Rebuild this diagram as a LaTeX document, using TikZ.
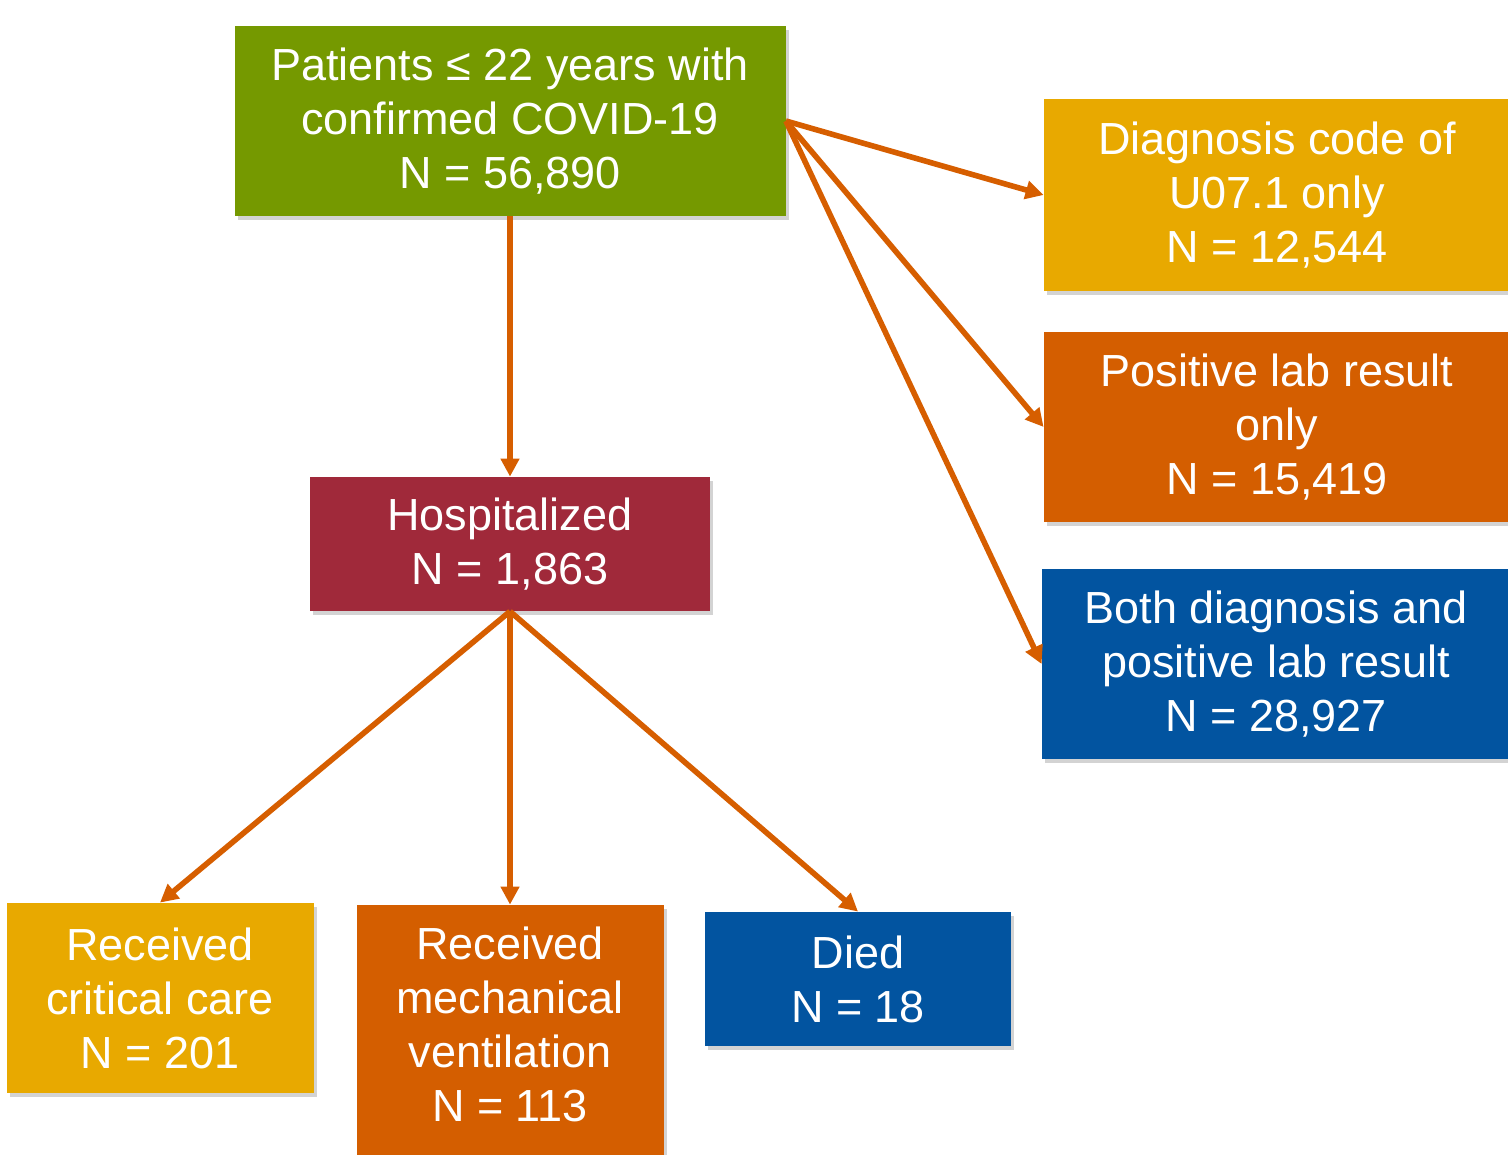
\documentclass[tikz,border=0pt]{standalone}
\usepackage{fontspec}
\setmainfont{Liberation Sans}
\usetikzlibrary{arrows.meta,shadows}
\definecolor{boxgreen}{RGB}{117,153,0}
\definecolor{boxgold}{RGB}{232,169,0}
\definecolor{boxorange}{RGB}{212,94,0}
\definecolor{boxred}{RGB}{160,41,58}
\definecolor{boxblue}{RGB}{2,84,160}
\definecolor{arrorange}{RGB}{214,94,0}

\begin{document}
\begin{tikzpicture}[x=0.5pt,y=-0.5pt,
  box/.style={fill=#1, text=white, align=center, inner sep=0pt,
    font=\fontsize{22.5}{27}\selectfont,
    drop shadow={shadow xshift=1.5pt, shadow yshift=-2pt, opacity=0.35}},
  boxtext/.style={text=white, align=center, inner sep=0pt, font=\fontsize{22.5}{27}\selectfont},
  arr/.style={draw=arrorange, line width=2.8pt, -{Triangle[length=9pt,width=9pt]}}]
  \useasboundingbox (0,0) rectangle (1508,1155);

  \node[box=boxgreen, minimum width=275.5pt, minimum height=95pt] (all) at (510,121) {Patients ≤ 22 years with\\confirmed COVID-19\\N = 56,890};
  \node[box=boxgold, minimum width=233pt, minimum height=96pt] (code) at (1277,195) {Diagnosis code of\\U07.1 only\\N = 12,544};
  \node[box=boxorange, minimum width=233pt, minimum height=95pt] (lab) at (1277,427) {Positive lab result\\only\\N = 15,419};
  \node[box=boxblue, minimum width=234pt, minimum height=95pt] (both) at (1276,664) {Both diagnosis and\\positive lab result\\N = 28,927};
  \node[box=boxred, minimum width=200pt, minimum height=67pt] (hosp) at (510,544) {Hospitalized\\N = 1,863};
  \node[box=boxgold, minimum width=153.5pt, minimum height=95pt] (crit) at (160,998) {Received\\critical care\\N = 201};
  \node[box=boxorange, minimum width=153.5pt, minimum height=127pt] (vent) at (510,1032) {};
  \node[boxtext] (venttext) at (510,1024) {Received\\mechanical\\ventilation\\N = 113};
  \node[box=boxblue, minimum width=153pt, minimum height=67pt] (died) at (858,979) {Died\\N = 18};

  \draw[arr] (all.east) -- (code.west);
  \draw[arr] (all.east) -- (lab.west);
  \draw[arr] (all.east) -- (both.west);
  \draw[arr] (all.south) -- (hosp.north);
  \draw[arr] (hosp.south) -- (crit.north);
  \draw[arr] (hosp.south) -- (vent.north);
  \draw[arr] (hosp.south) -- (died.north);
\end{tikzpicture}
\end{document}
